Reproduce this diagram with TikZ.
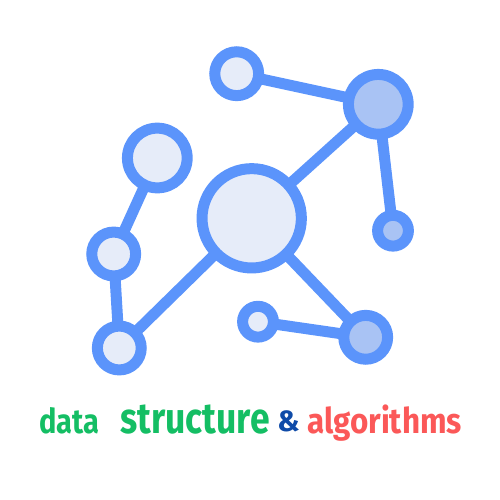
\documentclass[tikz,border=0pt]{standalone}
\usepackage{fontspec}
\setmainfont{Fira Sans}[BoldFont={Fira Sans Bold}]
\definecolor{edgeblue}{HTML}{5B94FB}
\definecolor{paleblue}{HTML}{E6ECF9}
\definecolor{midblue}{HTML}{A9C3F4}
\definecolor{wordgreen}{HTML}{14BE64}
\definecolor{wordnavy}{HTML}{0F4BA8}
\definecolor{wordred}{HTML}{FB5858}
\tikzset{
  dot/.style={circle,draw=edgeblue,inner sep=0pt,outer sep=0pt,line width=8.25pt},
  big/.style={dot,minimum size=74.5pt},
  large/.style={dot,minimum size=44.8pt},
  medium/.style={dot,minimum size=32.9pt},
  small/.style={dot,minimum size=23.1pt},
  pale/.style={fill=paleblue},
  mid/.style={fill=midblue},
  link/.style={draw=edgeblue,line width=8.25pt},
  word/.style={inner sep=0pt,font=\bfseries\fontsize{27pt}{27pt}\selectfont,anchor=base}
}
\begin{document}
\begin{tikzpicture}[x=0.75pt,y=-0.75pt]
\useasboundingbox (0,0) rectangle (500,500);
\node[big,pale] (nBig) at (251.7,218.3) {};
\node[medium,pale] (nTL) at (236.7,73.7) {};
\node[large,mid] (nTR) at (378.3,104.3) {};
\node[small,mid] (nSR) at (393,230.7) {};
\node[large,pale] (nUL) at (157.3,158) {};
\node[medium,pale] (nML) at (113.7,254) {};
\node[medium,pale] (nBL) at (119.3,348) {};
\node[small,pale] (nBS) at (258,321.7) {};
\node[medium,mid] (nBR) at (365.7,337.3) {};
\draw[link] (nTL) -- (nTR);
\draw[link] (nTR) -- (nBig);
\draw[link] (nTR) -- (nSR);
\draw[link] (nUL) -- (nML);
\draw[link] (nML) -- (nBL);
\draw[link] (nBL) -- (nBig);
\draw[link] (nBig) -- (nBR);
\draw[link] (nBS) -- (nBR);
\node[word,text=wordgreen] (wData) at (69.5,433) {\resizebox{45pt}{19.5pt}{data}};
\node[word,text=wordgreen] (wStruct) at (195,433) {\resizebox{112pt}{21.5pt}{structure}};
\node[word,text=wordnavy,font=\bfseries\fontsize{22pt}{22pt}\selectfont] (wAnd) at (288.5,431) {\&};
\node[word,text=wordred] (wAlgo) at (384.5,433) {\resizebox{116pt}{21.5pt}{algorithms}};
\end{tikzpicture}
\end{document}
